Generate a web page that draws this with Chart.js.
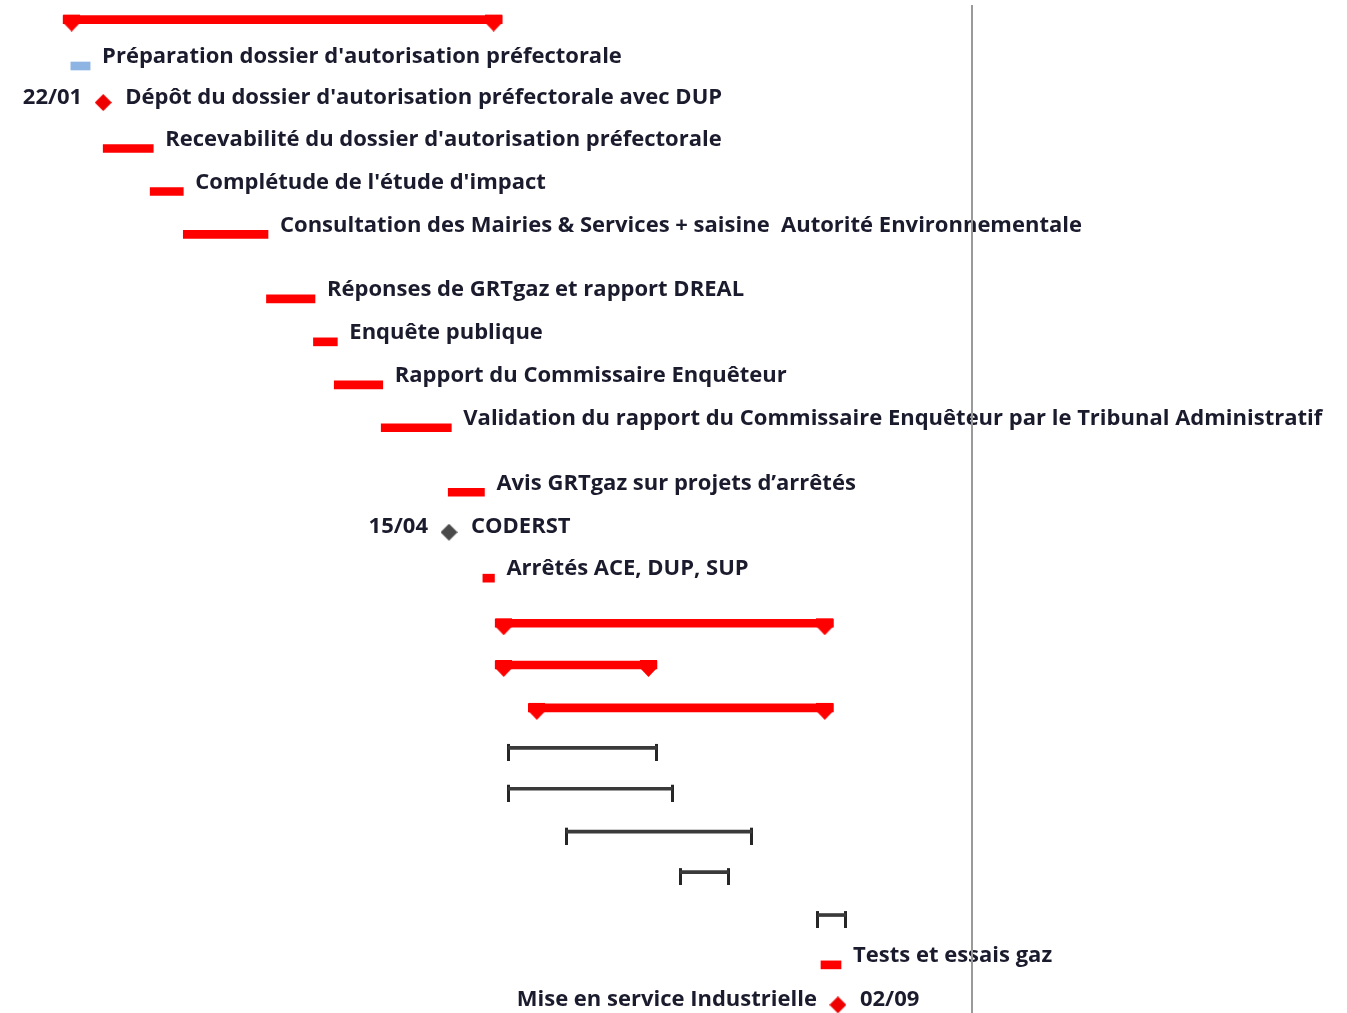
<!DOCTYPE html>
<html><head><meta charset="utf-8">
<script src="https://cdn.jsdelivr.net/npm/chart.js@4.4.1/dist/chart.umd.min.js"></script>
<style>html,body{margin:0;padding:0;background:#fff;overflow:hidden}#wrap{width:1347px;height:1013px}</style>
</head><body><div id="wrap"><canvas id="c" width="1347" height="1013"></canvas></div>
<script>
// ---------- DATA ----------
const summaryStart = ['2018-12-01', '2020-06-14', '2020-06-14', '2020-07-27'];
const summaryEnd   = ['2020-06-23', '2021-08-27', '2021-01-10', '2021-08-27'];
const summaryRow   = [0, 14.05, 15.02, 16.02];

const prepLabel = ["Préparation dossier d'autorisation préfectorale"];
const prepStart = ['2018-12-11'];
const prepEnd   = ['2019-01-05'];
const prepRow   = [1.08];

const taskLabels = [
  "Recevabilité du dossier d'autorisation préfectorale",
  "Complétude de l'étude d'impact",
  "Consultation des Mairies & Services + saisine  Autorité Environnementale",
  "Réponses de GRTgaz et rapport DREAL",
  "Enquête publique",
  "Rapport du Commissaire Enquêteur",
  "Validation du rapport du Commissaire Enquêteur par le Tribunal Administratif",
  "Avis GRTgaz sur projets d’arrêtés",
  "Arrêtés ACE, DUP, SUP",
  "Tests et essais gaz"
];
const taskStart = ['2019-01-22', '2019-03-24', '2019-05-06', '2019-08-22', '2019-10-22', '2019-11-18', '2020-01-18', '2020-04-14', '2020-05-29', '2021-08-11'];
const taskEnd   = ['2019-03-28', '2019-05-06', '2019-08-24', '2019-10-24', '2019-11-22', '2020-01-20', '2020-04-18', '2020-05-31', '2020-06-13', '2021-09-06'];
const taskRow   = [3, 4, 5, 6.5, 7.5, 8.5, 9.5, 11, 13, 22];

const rangeStart = ['2020-07-01', '2020-07-01', '2020-09-14', '2021-02-09', '2021-08-07'];
const rangeEnd   = ['2021-01-10', '2021-01-30', '2021-05-13', '2021-04-13', '2021-09-12'];
const rangeRow   = [16.95, 17.9, 18.9, 19.84, 20.84];

const milestoneDate  = ['2019-01-22', '2020-04-15', '2021-09-02'];
const milestoneRow   = [2, 12, 23];
const milestoneKind  = ['key', 'review', 'key'];
const milestoneLeft  = ['22/01', '15/04', 'Mise en service Industrielle'];
const milestoneRight = ["Dépôt du dossier d'autorisation préfectorale avec DUP", 'CODERST', '02/09'];

const statusDate = ['2022-02-23'];
const axisDates  = ['2018-09-10', '2023-06-25'];
const rowRange   = [-0.456, 23.12];

// ---------- HELPERS ----------
function dayNum(s) {
  const p = s.split('-').map(Number);
  return (Date.UTC(p[0], p[1] - 1, p[2]) - Date.UTC(2019, 0, 22)) / 86400000;
}
const RED = '#ff0000';
const TEXT = '#1b1b2e';
const FONT = 'bold 22px "Open Sans"';

function makeCap(side) {
  const c = document.createElement('canvas');
  c.width = 34; c.height = 24;
  const g = c.getContext('2d');
  const x0 = side === 'start' ? 17 : 0;
  g.fillStyle = RED;
  g.beginPath();
  g.moveTo(x0, 7); g.lineTo(x0 + 17, 7); g.lineTo(x0 + 17, 15);
  g.lineTo(x0 + 8.5, 24); g.lineTo(x0, 15); g.closePath(); g.fill();
  return c;
}
function makeTick() {
  const c = document.createElement('canvas');
  c.width = 3; c.height = 26;
  const g = c.getContext('2d');
  g.fillStyle = '#262626';
  g.fillRect(0, 9, 3, 17);
  return c;
}
function makeDiamond(color) {
  const c = document.createElement('canvas');
  c.width = 17; c.height = 23;
  const g = c.getContext('2d');
  g.fillStyle = color;
  g.beginPath();
  g.moveTo(8.5, 0); g.lineTo(17, 8.5); g.lineTo(8.5, 17); g.lineTo(0, 8.5); g.closePath(); g.fill();
  return c;
}
const capStart = makeCap('start'), capEnd = makeCap('end'), tick = makeTick();
const diamondRed = makeDiamond('#ee0000'), diamondGrey = makeDiamond('#4a4a4a');

const floating = (st, en, rw) => st.map((s, i) => ({ x: [dayNum(s), dayNum(en[i])], y: rw[i] }));
const pts = (dates, rw) => dates.map((d, i) => ({ x: dayNum(d), y: rw[i] }));

const datasets = [
  { type: 'bar', indexAxis: 'y', grouped: false, data: floating(summaryStart, summaryEnd, summaryRow),
    backgroundColor: RED, barThickness: 8, borderWidth: 0 },
  { type: 'scatter', data: pts(summaryStart, summaryRow), pointStyle: capStart, pointRadius: 8 },
  { type: 'scatter', data: pts(summaryEnd, summaryRow), pointStyle: capEnd, pointRadius: 8 },
  { type: 'bar', indexAxis: 'y', grouped: false, data: floating(prepStart, prepEnd, prepRow),
    backgroundColor: '#8db4e2', barThickness: 8, borderWidth: 0 },
  { type: 'bar', indexAxis: 'y', grouped: false, data: floating(taskStart, taskEnd, taskRow),
    backgroundColor: RED, barThickness: 8, borderWidth: 0 },
  { type: 'bar', indexAxis: 'y', grouped: false, data: floating(rangeStart, rangeEnd, rangeRow),
    backgroundColor: '#3a3a3a', barThickness: 3, borderWidth: 0 },
  { type: 'scatter', data: pts(rangeStart, rangeRow).concat(pts(rangeEnd, rangeRow)), pointStyle: tick, pointRadius: 8 },
  { type: 'scatter', data: pts(milestoneDate, milestoneRow),
    pointStyle: (ctx) => milestoneKind[ctx.dataIndex] === 'review' ? diamondGrey : diamondRed, pointRadius: 8 }
];

const labelPlugin = {
  id: 'ganttLabels',
  afterDatasetsDraw(chart) {
    const ctx = chart.ctx, xs = chart.scales.x, ys = chart.scales.y;
    ctx.save();
    ctx.font = FONT; ctx.fillStyle = TEXT; ctx.textBaseline = 'middle';
    ctx.textAlign = 'left';
    const right = (labels, ends, rows) => labels.forEach((t, i) => {
      ctx.fillText(t, xs.getPixelForValue(dayNum(ends[i])) + 12, ys.getPixelForValue(rows[i]) - 9);
    });
    right(prepLabel, prepEnd, prepRow);
    right(taskLabels, taskEnd, taskRow);
    milestoneDate.forEach((d, i) => {
      const px = xs.getPixelForValue(dayNum(d)), py = ys.getPixelForValue(milestoneRow[i]) - 8;
      ctx.textAlign = 'left'; ctx.fillText(milestoneRight[i], px + 22, py);
      ctx.textAlign = 'right'; ctx.fillText(milestoneLeft[i], px - 21, py);
    });
    // status line
    const sx = Math.round(xs.getPixelForValue(dayNum(statusDate[0])));
    ctx.fillStyle = '#9a9a9a';
    ctx.fillRect(sx - 1, 5, 2, chart.height);
    ctx.restore();
  }
};

new Chart(document.getElementById('c'), {
  data: { datasets },
  options: {
    responsive: false, animation: false, devicePixelRatio: 1,
    layout: { padding: 0, autoPadding: false },
    plugins: { legend: { display: false }, tooltip: { enabled: false } },
    scales: {
      x: { type: 'linear', display: false, offset: false, min: dayNum(axisDates[0]), max: dayNum(axisDates[1]) },
      y: { type: 'linear', display: false, offset: false, min: rowRange[0], max: rowRange[1], reverse: true }
    }
  },
  plugins: [labelPlugin]
});
</script></body></html>
